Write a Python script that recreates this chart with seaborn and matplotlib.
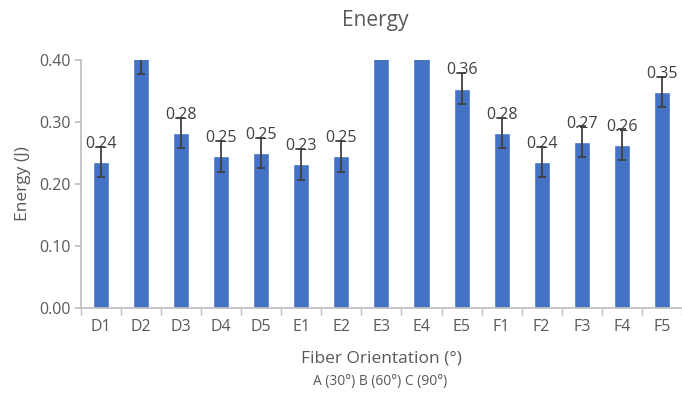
import matplotlib
matplotlib.use("Agg")
import matplotlib.pyplot as plt
import seaborn as sns
import numpy as np
import pandas as pd
from matplotlib.ticker import FormatStrFormatter

categories = ["D1", "D2", "D3", "D4", "D5", "E1", "E2", "E3", "E4", "E5",
              "F1", "F2", "F3", "F4", "F5"]
energy = [0.236, 0.405, 0.282, 0.245, 0.250, 0.232, 0.245, 0.450, 0.470, 0.354,
          0.282, 0.236, 0.268, 0.263, 0.348]
errors = [0.024, 0.028, 0.024, 0.025, 0.024, 0.025, 0.025, 0.030, 0.030, 0.025,
          0.024, 0.024, 0.025, 0.025, 0.024]
labels = ["0.24", "0.41", "0.28", "0.25", "0.25", "0.23", "0.25", "0.45", "0.47", "0.36",
          "0.28", "0.24", "0.27", "0.26", "0.35"]

df = pd.DataFrame({"cat": categories, "energy": energy, "err": errors})

sns.set_theme(style="white")
plt.rcParams["font.family"] = ["Open Sans", "DejaVu Sans"]

txt = "#595959"
bar_color = "#4472C4"

fig = plt.figure(figsize=(6.82, 3.97), dpi=100)
ax = fig.add_axes([0.1188, 0.2242, 0.881, 0.6247])

sns.barplot(data=df, x="cat", y="energy", color=bar_color, width=0.4,
            saturation=1, ax=ax, errorbar=None)
ax.errorbar(np.arange(len(categories)), df["energy"], yerr=df["err"], fmt="none",
            ecolor="#404040", elinewidth=1.3, capsize=3, capthick=1.3, zorder=5)

ax.set_ylim(0, 0.40)
ax.set_xlim(-0.5, len(categories) - 0.5)
ax.set_yticks([0.0, 0.1, 0.2, 0.3, 0.4])
ax.yaxis.set_major_formatter(FormatStrFormatter("%.2f"))

for i, (v, lab) in enumerate(zip(energy, labels)):
    if v <= 0.40:
        ax.annotate(lab, (i, v), xytext=(0, 13), textcoords="offset points",
                    ha="center", va="center", fontsize=11.5, color="#404040")

for s in ["top", "right"]:
    ax.spines[s].set_visible(False)
ax.spines["left"].set_color("#bfbfbf")
ax.spines["bottom"].set_color("#bfbfbf")

ax.set_xticks(np.arange(len(categories)))
ax.set_xticklabels(categories)
ax.tick_params(axis="x", length=0, pad=8, labelsize=11.5, colors=txt)
ax.tick_params(axis="y", length=4, color="#bfbfbf", labelsize=11.5, labelcolor=txt, left=True)
ax.set_xticks(np.arange(-0.5, len(categories), 1), minor=True)
ax.tick_params(axis="x", which="minor", length=5, color="#bfbfbf", bottom=True)

ax.set_ylabel("Energy (J)", fontsize=12.5, color=txt, labelpad=6)
ax.set_xlabel("Fiber Orientation (°)", fontsize=12.5, color=txt, labelpad=11)
fig.text(0.558, 0.04, "A (30°) B (60°) C (90°)", ha="center", va="center",
         fontsize=10, color=txt)
fig.suptitle("Energy", x=0.55, y=0.975, fontsize=15, color=txt)

fig.savefig("out.png", dpi=100)
